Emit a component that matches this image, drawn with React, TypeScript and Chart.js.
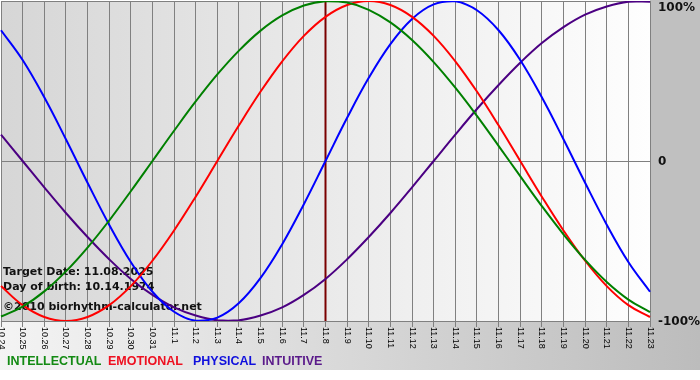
import React, { useEffect, useRef } from "react";
import { Chart, registerables } from "chart.js";

Chart.register(...registerables);

const dates = [
  "10.24", "10.25", "10.26", "10.27", "10.28", "10.29", "10.30", "10.31",
  "11.1", "11.2", "11.3", "11.4", "11.5", "11.6", "11.7", "11.8", "11.9",
  "11.10", "11.11", "11.12", "11.13", "11.14", "11.15", "11.16", "11.17",
  "11.18", "11.19", "11.20", "11.21", "11.22", "11.23",
];

const intellectual = [
  -0.972, -0.91, -0.815, -0.69, -0.541, -0.372, -0.189, 0, 0.189, 0.372, 0.541,
  0.69, 0.815, 0.91, 0.972, 0.999, 0.99, 0.945, 0.866, 0.756, 0.618, 0.458,
  0.282, 0.095, -0.095, -0.282, -0.458, -0.618, -0.756, -0.866, -0.945,
];
const emotional = [
  -0.782, -0.901, -0.975, -1, -0.975, -0.901, -0.782, -0.623, -0.434, -0.223, 0,
  0.223, 0.434, 0.623, 0.782, 0.901, 0.975, 1, 0.975, 0.901, 0.782, 0.623,
  0.434, 0.223, 0, -0.223, -0.434, -0.623, -0.782, -0.901, -0.975,
];
const physical = [
  0.817, 0.631, 0.398, 0.136, -0.136, -0.398, -0.631, -0.817, -0.942, -0.998,
  -0.979, -0.888, -0.731, -0.52, -0.27, 0, 0.27, 0.52, 0.731, 0.888, 0.979,
  0.998, 0.942, 0.817, 0.631, 0.398, 0.136, -0.136, -0.398, -0.631, -0.817,
];
const intuitive = [
  0.165, 0, -0.165, -0.325, -0.475, -0.614, -0.737, -0.837, -0.915, -0.966,
  -0.996, -0.996, -0.966, -0.915, -0.837, -0.737, -0.614, -0.475, -0.325,
  -0.165, 0, 0.165, 0.325, 0.475, 0.614, 0.737, 0.837, 0.915, 0.966, 0.996,
  0.996,
];

const yTickValues = [1, 0, -1];
const yTickLabels = ["100%", "0", "-100%"];
const seriesNames = ["INTELLECTUAL", "EMOTIONAL", "PHYSICAL", "INTUITIVE"];
const seriesColors = ["#008000", "#ff0000", "#0000ff", "#4b0082"];
const legendColors = ["#138a13", "#ee1020", "#1010dd", "#5a1a8a"];
const legendX = [7, 108, 193, 262];
const infoLines = [
  "Target Date: 11.08.2025",
  "Day of birth: 10.14.1974",
  "\u00a92010 biorhythm-calculator.net",
];
const targetLabel = "11.8";

const decorPlugin = {
  id: "decor",
  beforeDraw(chart: any) {
    const { ctx, chartArea: a, width, height } = chart;
    ctx.save();
    ctx.fillStyle = "#ffffff";
    ctx.fillRect(0, 0, width, height);
    const gb = ctx.createLinearGradient(0, 0, width, 0);
    gb.addColorStop(0, "#f4f4f4");
    gb.addColorStop(1, "#bcbcbc");
    ctx.fillStyle = gb;
    ctx.fillRect(0, a.bottom, width, 370 - a.bottom);
    ctx.fillStyle = "#c0c0c0";
    ctx.fillRect(a.right, 0, width - a.right, a.bottom);
    const gp = ctx.createLinearGradient(a.left, 0, a.right, 0);
    gp.addColorStop(0, "#d6d6d6");
    gp.addColorStop(1, "#fefefe");
    ctx.fillStyle = gp;
    ctx.fillRect(a.left, a.top, a.right - a.left, a.bottom - a.top);
    ctx.restore();
  },
  beforeDatasetsDraw(chart: any) {
    const { ctx, chartArea: a, scales } = chart;
    ctx.save();
    // info text
    ctx.fillStyle = "#111111";
    ctx.font = 'bold 11px "DejaVu Sans"';
    ctx.textAlign = "left";
    ctx.textBaseline = "middle";
    const ys = [272, 287, 307];
    infoLines.forEach((t, i) => ctx.fillText(t, 3, ys[i]));
    // target line
    const tx = scales.x.getPixelForValue(dates.indexOf(targetLabel));
    ctx.strokeStyle = "#7a0000";
    ctx.lineWidth = 2;
    ctx.beginPath();
    ctx.moveTo(tx, a.top);
    ctx.lineTo(tx, a.bottom);
    ctx.stroke();
    ctx.restore();
  },
  afterDraw(chart: any) {
    const { ctx, chartArea: a, scales } = chart;
    ctx.save();
    // x labels rotated clockwise
    ctx.fillStyle = "#000000";
    ctx.font = '9px "Liberation Sans"';
    ctx.textAlign = "left";
    ctx.textBaseline = "middle";
    dates.forEach((d, i) => {
      const x = scales.x.getPixelForValue(i);
      ctx.save();
      ctx.translate(x, a.bottom + 6);
      ctx.rotate(Math.PI / 2);
      ctx.fillText(d, 0, 0);
      ctx.restore();
    });
    // y labels
    ctx.font = 'bold 12px "DejaVu Sans"';
    ctx.fillStyle = "#111111";
    yTickValues.forEach((v, i) => {
      const y = Math.max(7, scales.y.getPixelForValue(v));
      ctx.fillText(yTickLabels[i], a.right + 8, y + 0.5);
    });
    // legend
    ctx.font = 'bold 12.5px "Liberation Sans"';
    seriesNames.forEach((n, i) => {
      ctx.fillStyle = legendColors[i];
      ctx.fillText(n, legendX[i], 362);
    });
    ctx.restore();
  },
};

export default function App() {
  const ref = useRef<HTMLCanvasElement | null>(null);
  useEffect(() => {
    if (!ref.current) return;
    const seriesData = [intellectual, emotional, physical, intuitive];
    const chart = new Chart(ref.current, {
      type: "line",
      data: {
        labels: dates,
        datasets: seriesNames.map((n, i) => ({
          label: n,
          data: seriesData[i],
          borderColor: seriesColors[i],
          borderWidth: 2,
          pointRadius: 0,
          tension: 0.4,
          fill: false,
        })),
      },
      options: {
        responsive: false,
        animation: false,
        devicePixelRatio: 1,
        layout: { padding: { left: 1, right: 50, top: 1, bottom: 53 } },
        plugins: { legend: { display: false }, tooltip: { enabled: false } },
        scales: {
          x: {
            type: "category",
            offset: false,
            ticks: { display: false },
            grid: { color: "#808080", lineWidth: 1, drawTicks: true, tickLength: 6, tickColor: "#808080" },
            border: { color: "#808080" },
          },
          y: {
            min: -1,
            max: 1,
            ticks: { display: false, stepSize: 1 },
            grid: { color: "#808080", lineWidth: 1, drawTicks: false },
            border: { color: "#808080" },
          },
        },
      },
      plugins: [decorPlugin],
    });
    return () => chart.destroy();
  }, []);
  return (
    <div style={{ position: "fixed", left: 0, top: 0, width: 700, height: 380 }}>
      <canvas ref={ref} width={700} height={380} style={{ width: 700, height: 380 }} />
    </div>
  );
}
